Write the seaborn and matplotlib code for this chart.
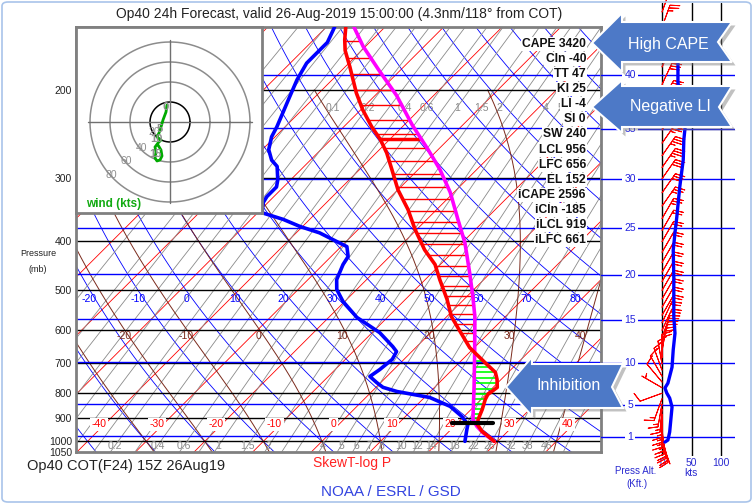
import numpy as np
import pandas as pd
import matplotlib
matplotlib.use("Agg")
import matplotlib.pyplot as plt
import seaborn as sns
from matplotlib.patches import Polygon, FancyBboxPatch
import matplotlib.patheffects as pe
from matplotlib.ticker import NullLocator

sns.set_style("white")
plt.rcParams['font.family'] = ['Liberation Sans', 'DejaVu Sans']

# ---------------- data ----------------
temp_p = [150, 159, 167, 180, 203, 219, 237, 251, 267, 288, 316, 346, 379, 416, 445, 477, 522, 565, 619, 651,
          666, 703, 729, 753, 781, 807, 825, 864, 904, 925, 955, 977, 1000]
temp_c = [-66.7, -64.7, -62.8, -59.2, -53.6, -49.7, -45.2, -41.6, -38.2, -34.5, -30.0, -24.9, -20.3, -15.2, -10.9,
          -7.5, -2.9, 0.8, 6.2, 9.2, 10.9, 15.0, 17.8, 19.3, 20.7, 20.3, 20.7, 21.9, 22.9, 23.6, 25.6, 27.5, 29.4]

dewp_p = [150, 161, 167, 177, 191, 207, 222, 237, 248, 263, 276, 284, 302, 312, 326, 335, 351, 362, 374, 385,
          397, 410, 429, 445, 477, 499, 527, 567, 608, 648, 663, 687, 720, 743, 764, 781, 796, 818, 852, 892,
          925, 947, 1000]
dewp_c = [-68.6, -67.2, -67.2, -67.2, -66.0, -64.3, -62.8, -61.4, -60.6, -58.9, -56.6, -54.6, -52.2, -51.2, -51.2,
          -50.8, -49.3, -44.5, -40.4, -36.0, -32.6, -29.0, -27.1, -26.6, -25.1, -23.4, -20.3, -15.2, -8.7, -4.1,
          -2.6, -2.0, -2.4, -2.9, -0.7, 1.2, 4.3, 10.9, 15.9, 19.6, 22.0, 22.7, 24.4]

parcel_p = [150, 164, 183, 205, 235, 263, 288, 320, 362, 403, 462, 515, 565, 666, 778, 904, 934, 960, 1000]
parcel_c = [-65.3, -60.4, -53.6, -46.4, -38.6, -31.7, -26.3, -20.6, -14.7, -9.5, -3.6, 1.0, 4.8, 10.9, 16.6,
            22.0, 23.9, 25.9, 29.4]

lfc_p = 656
max_bar_p = 250
ilcl_p = 919
ilcl_t = [19.1, 26.1]

hodo_u = [-3, -4, -7, -9, -11, -13, -9, -12, -15, -14, -15, -13, -10, -8, -9, -12]
hodo_v = [17, 10, 2, -5, -11, -15, -18, -21, -25, -30, -36, -39, -38, -34, -28, -23]
hodo_rings = [20, 40, 60, 80]
hodo_marks = ["0", "5", "10", "15"]
hodo_mark_idx = [0, 3, 5, 9]

spd_p = [150, 178, 193, 215, 238, 251, 275, 312, 358, 384, 416, 470, 565, 608, 656, 710, 764, 781, 799, 818,
         852, 955, 991, 1000]
spd_kt = [25, 27, 27, 33, 39, 37, 36, 30, 25, 22, 19, 20, 20, 22, 19, 17, 10, 5, 8, 13, 17, 13, 10, 5]

barb_p = [1000, 990, 980, 970, 960, 950, 935, 920,
          900, 880, 860, 840,
          820, 800, 780, 760,
          740, 720, 700, 680,
          660, 640, 620, 600, 580, 560,
          540, 520, 500, 480, 460, 440, 420, 400,
          380, 360, 340, 320, 300,
          285, 270, 255, 240, 225, 210, 195,
          180, 165, 150, 140]
barb_dir = [160, 165, 165, 170, 170, 175, 175, 180,
            180, 180, 185, 190,
            200, 250, 300, 320,
            330, 340, 350, 0,
            10, 15, 20, 25, 25, 30,
            30, 30, 30, 30, 30, 30, 30, 30,
            30, 30, 35, 35, 35,
            35, 35, 35, 30, 30, 30, 25,
            25, 20, 20, 20]
barb_spd = [5, 8, 10, 12, 13, 14, 15, 15,
            16, 17, 17, 15,
            13, 9, 5, 8,
            10, 14, 17, 18,
            19, 20, 21, 22, 21, 20,
            20, 20, 20, 20, 20, 19, 19, 19,
            21, 23, 25, 28, 31,
            33, 35, 37, 38, 36, 32, 28,
            27, 27, 26, 25]

press_ticks = [200, 300, 400, 500, 600, 700, 800, 900, 1000, 1050]
press_lines = [200, 300, 400, 500, 600, 700, 800, 900, 1000]
height_kft = [1, 5, 10, 15, 20, 25, 30, 35, 40]
iso_labels = [-40, -30, -20, -10, 0, 10, 20, 30, 40]
dry_labels = [-20, -10, 0, 10, 20, 30, 40, 50, 60, 70, 80]
moist_vals = [-30, -20, -10, 0, 10, 20, 30, 40]
moist_labels = [-20, -10, 0, 10, 20, 30, 40]
mix_vals = [0.01, 0.02, 0.03, 0.05, 0.07, 0.1, 0.15, 0.2, 0.3, 0.4, 0.6, 0.8, 1, 1.5, 2, 2.5, 3, 4, 5, 6, 7, 8,
            10, 12, 14, 18, 22, 26, 32, 38, 46, 56]
mix_labels_bottom = [0.2, 0.4, 0.6, 1, 1.5, 2, 4, 5, 6, 7, 8, 10, 12, 14, 18, 22, 26, 32, 38, 46]
mix_labels_top = [0.1, 0.2, 0.4, 0.6, 1, 1.5, 2, 4, 5]

stats = ["CAPE 3420", "CIn -40", "TT 47", "KI 25", "LI -4", "SI 0", "SW 240", "LCL 956", "LFC 656", "EL 152",
         "iCAPE 2596", "iCIn -185", "iLCL 919", "iLFC 661"]

# ---------------- helpers ----------------
K = 37.3
W, H = 753, 504


def skew(t, p):
    return np.asarray(t, float) + K * np.log(1000.0 / np.asarray(p, float))


def fmt(v):
    return ("%g" % v)


def td_from_w(w, p):
    e = w * p / (622.0 + w)
    l = np.log(e / 6.112)
    return 243.5 * l / (17.67 - l)


def moist(thw, p_end):
    Rd, cp, Lv, eps = 287.04, 1005.7, 2.501e6, 0.622
    lnp = np.linspace(np.log(1000.0), np.log(p_end), 300)

    def f(T, p):
        tc = T - 273.15
        es = 6.112 * np.exp(17.67 * tc / (tc + 243.5))
        rs = eps * es / (p - es)
        return (Rd * T + Lv * rs) / (cp + Lv * Lv * rs * eps / (Rd * T * T))

    T = thw + 273.15
    out = [T]
    for i in range(1, len(lnp)):
        d = lnp[i] - lnp[i - 1]
        p0, p1 = np.exp(lnp[i - 1]), np.exp(lnp[i])
        k1 = f(T, p0)
        k2 = f(T + k1 * d, p1)
        T = T + 0.5 * (k1 + k2) * d
        out.append(T)
    return np.exp(lnp), np.array(out) - 273.15


def px_axes(fig, l, t, r, b):
    return fig.add_axes([l / W, 1 - b / H, (r - l) / W, (b - t) / H])


fig = plt.figure(figsize=(W / 100, H / 100), dpi=100)
fig.patch.set_facecolor("white")

# ---------------- main skew-T axes ----------------
ax = px_axes(fig, 76, 27, 601, 452)
ax.set_yscale("log")
ax.set_ylim(1050, 150)
ax.set_xlim(-41.97, 47.62)
ax.yaxis.set_minor_locator(NullLocator())
ax.set_yticks(press_ticks)
ax.set_yticklabels([str(v) for v in press_ticks])
ax.set_xticks([])
ax.tick_params(axis="y", length=0, pad=3, labelsize=7.5, colors="#222222")
for s in ax.spines.values():
    s.set_color("#808080")
    s.set_linewidth(2)

pfull = np.geomspace(1050, 150, 80)
# isotherms
for t in range(-130, 60, 10):
    ax.plot(skew([t, t], [1050, 150]), [1050, 150], color="red", lw=0.6, zorder=1)
# dry adiabats
for th in range(-40, 170, 10):
    tt = (th + 273.15) * (pfull / 1000.0) ** 0.2857 - 273.15
    ax.plot(skew(tt, pfull), pfull, color="blue", lw=0.6, zorder=1)
# mixing ratio lines
for w in mix_vals:
    ax.plot(skew(td_from_w(w, pfull), pfull), pfull, color="#8a8a8a", lw=0.6, zorder=1)
# moist adiabats
moist_lines = {}
for thw in moist_vals:
    pu, tu = moist(thw, 200)
    pd_, td_ = moist(thw, 1050)
    pp = np.concatenate([pd_[::-1], pu[1:]])
    tt = np.concatenate([td_[::-1], tu[1:]])
    moist_lines[thw] = (pp, tt)
    ax.plot(skew(tt, pp), pp, color="#7b2a1c", lw=0.7, zorder=1)

# pressure & height lines
for p in press_lines:
    ax.axhline(p, color="black", lw=1, zorder=2)
height_p = [1013.25 * (1 - 2.25577e-5 * h * 304.8) ** 5.25588 for h in height_kft]
for p in height_p:
    ax.axhline(p, color="blue", lw=1, zorder=2)

# labels of the background lines
for t in iso_labels:
    ax.text(skew(t - 1.0, 925), 925, str(t), color="red", fontsize=7.5, ha="center", va="center", zorder=3,
            bbox=dict(facecolor="white", edgecolor="none", pad=1.2))
for th in dry_labels:
    tt = (th + 273.15) * (520 / 1000.0) ** 0.2857 - 273.15
    ax.text(skew(tt - 1.0, 520), 520, str(th), color="blue", fontsize=7.5, ha="center", va="center", zorder=3)
for thw in moist_labels:
    pp, tt = moist_lines[thw]
    t616 = np.interp(np.log(616), np.log(pp[::-1]), tt[::-1])
    ax.text(skew(t616 - 0.8, 616), 616, str(thw), color="#7b2a1c", fontsize=7.5, ha="center", va="center",
            zorder=3)
for w in mix_labels_bottom:
    ax.text(skew(td_from_w(w, 1020), 1020), 1020, fmt(w), color="#8a8a8a", fontsize=7.5, ha="center",
            va="center", zorder=3)
for w in mix_labels_top:
    ax.text(skew(td_from_w(w, 217), 217), 217, fmt(w), color="#8a8a8a", fontsize=7.5, ha="center",
            va="center", zorder=3)

# CAPE / CIN hatching
lp_t = np.log(temp_p)
lp_p = np.log(parcel_p)
cape_levels = np.arange(np.sqrt(160), np.sqrt(lfc_p), 0.5) ** 2
for p in cape_levels:
    te = np.interp(np.log(p), lp_t, temp_c)
    tp = np.interp(np.log(p), lp_p, parcel_c)
    if tp > te:
        ax.plot(skew([te, tp], [p, p]), [p, p], color="red", lw=1, zorder=3)
te = np.interp(np.log(max_bar_p), lp_t, temp_c)
tp = np.interp(np.log(max_bar_p), lp_p, parcel_c)
ax.plot(skew([te, tp], [max_bar_p] * 2), [max_bar_p] * 2, color="red", lw=2.5, zorder=3)
for p in np.arange(672, 922, 19):
    te = np.interp(np.log(p), lp_t, temp_c)
    tp = np.interp(np.log(p), lp_p, parcel_c)
    if te > tp:
        ax.plot(skew([tp, te], [p, p]), [p, p], color="#00ff00", lw=1.2, zorder=3)

# traces
sns.lineplot(x=skew(dewp_c, dewp_p), y=dewp_p, sort=False, estimator=None, ax=ax, color="blue", lw=2.6,
             zorder=4, legend=False)
sns.lineplot(x=skew(parcel_c, parcel_p), y=parcel_p, sort=False, estimator=None, ax=ax, color="#ff00ff",
             lw=2.6, zorder=4, legend=False)
sns.lineplot(x=skew(temp_c, temp_p), y=temp_p, sort=False, estimator=None, ax=ax, color="red", lw=2.6,
             zorder=5, legend=False)
ax.plot(skew(ilcl_t, [ilcl_p] * 2), [ilcl_p] * 2, color="black", lw=3, zorder=6)
ax.set_xlabel("")
ax.set_ylabel("")
ax.set_xlim(-41.97, 47.62)
ax.set_ylim(1050, 150)

# ---------------- wind panel ----------------
ax2 = px_axes(fig, 601, 3, 735, 456)
ax2.set_yscale("log")
ax2.set_ylim(1066, 134.3)
ax2.set_xlim(-103.4, 123.7)
ax2.yaxis.set_minor_locator(NullLocator())
ax2.set_yticks([])
for s in ax2.spines.values():
    s.set_visible(False)
ax2.patch.set_alpha(0)
for v in [0, 50, 100]:
    ax2.axvline(v, color="black", lw=1, zorder=1)
for h, p in zip(height_kft, height_p):
    ax2.axhline(p, color="blue", lw=1, zorder=1)
    ax2.text(-54, p, str(h), color="#2222dd", fontsize=7.5, ha="center", va="center", zorder=2,
             bbox=dict(facecolor="white", edgecolor="none", pad=1.5))
d = np.radians(barb_dir)
bu = -np.array(barb_spd) * np.sin(d)
bv = -np.array(barb_spd) * np.cos(d)
ax2.barbs(np.zeros(len(barb_p)), barb_p, bu, bv, length=5.8, color="red", lw=0.7, zorder=3, clip_on=False)
sns.lineplot(x=spd_kt, y=spd_p, sort=False, estimator=None, ax=ax2, color="blue", lw=2.4, zorder=4,
             legend=False)
ax2.set_ylabel("")
ax2.set_xlabel("")
ax2.set_xticks([0, 50, 100])
ax2.set_xticklabels(["0", "50", "100"])
ax2.tick_params(axis="x", length=0, pad=1.5, labelsize=7.5, colors="#2a2ad0")
ax2.set_xlim(-103.4, 123.7)
ax2.set_ylim(1066, 134.3)

# ---------------- hodograph inset ----------------
hax = px_axes(fig, 76, 27, 262, 213)
hax.set_xlim(-94, 92)
hax.set_ylim(-91, 95)
hax.set_xticks([])
hax.set_yticks([])
hax.set_facecolor("white")
for s in hax.spines.values():
    s.set_color("#808080")
    s.set_linewidth(2)
ang = np.linspace(0, 2 * np.pi, 240)
for r in hodo_rings:
    hax.plot(r * np.cos(ang), r * np.sin(ang), color="black" if r == 20 else "#8c8c8c", lw=1.1)
hax.plot([-82, 82], [0, 0], color="#707070", lw=1)
hax.plot([0, 0], [-81, 82], color="#707070", lw=1)
for r in hodo_rings:
    a = np.radians(212 if r == 20 else 222)
    hax.text((r - 1) * np.cos(a), (r - 1) * np.sin(a), str(r), color="#8c8c8c", fontsize=7.5,
             ha="center", va="center")
sns.lineplot(x=hodo_u, y=hodo_v, sort=False, estimator=None, ax=hax, color="#00aa00", lw=2, legend=False,
             zorder=3)
for lab, i in zip(hodo_marks, hodo_mark_idx):
    hax.text(hodo_u[i] - 1, hodo_v[i] - 2, lab, color="#909090", fontsize=8, fontweight="bold",
             ha="center", va="center", zorder=4)
hax.text(0.054, 0.05, "wind (kts)", transform=hax.transAxes, color="#11aa11", fontsize=8.5,
         fontweight="bold", ha="left", va="center")
hax.set_xlabel("")
hax.set_ylabel("")
hax.set_xlim(-94, 92)
hax.set_ylim(-91, 95)

# ---------------- texts ----------------
fig.text(339 / W, 1 - 14 / H, "Op40 24h Forecast, valid 26-Aug-2019 15:00:00 (4.3nm/118\u00b0 from COT)",
         ha="center", va="center", fontsize=10, color="#222222")
for i, s in enumerate(stats):
    fig.text(586 / W, 1 - (44 + i * 15.08) / H, s, ha="right", va="center", fontsize=8.7, fontweight="bold",
             color="#111111", zorder=4, bbox=dict(facecolor="white", edgecolor="none", pad=0.8))
fig.text(38 / W, 1 - 254 / H, "Pressure", ha="center", va="center", fontsize=6.5, color="#222222")
fig.text(38 / W, 1 - 270 / H, "(mb)", ha="center", va="center", fontsize=6.5, color="#222222")
fig.text(27 / W, 1 - 466 / H, "Op40 COT(F24) 15Z 26Aug19", ha="left", va="center", fontsize=10.5,
         color="#222222")
fig.text(352 / W, 1 - 463 / H, "SkewT-log P", ha="center", va="center", fontsize=10, color="#ff2222")
fig.text(391 / W, 1 - 492 / H, "NOAA / ESRL / GSD", ha="center", va="center", fontsize=11, color="#3344e0")
fig.text(636 / W, 1 - 471 / H, "Press Alt.", ha="center", va="center", fontsize=7, color="#2a2ad0")
fig.text(637 / W, 1 - 484 / H, "(Kft.)", ha="center", va="center", fontsize=7, color="#2a2ad0")
fig.text(691 / W, 1 - 473 / H, "kts", ha="center", va="center", fontsize=7.5, color="#2a2ad0")

# ---------------- callout arrows ----------------
callouts = [
    ("High CAPE", [(592, 43), (622, 13), (622, 22), (732, 22), (718, 42), (732, 62), (622, 62), (622, 72)],
     (668, 44)),
    ("Negative LI", [(592, 107), (622, 80), (622, 86), (732, 86), (719, 107), (732, 127), (622, 127),
                     (622, 133)], (670, 107)),
    ("Inhibition", [(506, 387), (532, 357), (532, 364), (623, 364), (612, 387), (623, 408), (532, 408),
                    (532, 416)], (569, 386)),
]
for txt, pts, c in callouts:
    verts = [(x / W, 1 - y / H) for x, y in pts]
    poly = Polygon(verts, closed=True, transform=fig.transFigure, facecolor="#4d79c7", edgecolor="white",
                   lw=1.5, zorder=10)
    poly.set_path_effects([pe.SimplePatchShadow(offset=(2.5, -2.5), shadow_rgbFace="#777777", alpha=0.45),
                           pe.Normal()])
    fig.patches.append(poly)
    fig.text(c[0] / W, 1 - c[1] / H, txt, ha="center", va="center", fontsize=11.5, color="white", zorder=11)

border = FancyBboxPatch((2 / W, 2 / H), 749 / W, 500 / H, boxstyle="round,pad=0,rounding_size=0.008",
                        transform=fig.transFigure, fill=False, edgecolor="#a9c4ea", lw=1.2, zorder=12)
fig.patches.append(border)

fig.savefig("out.png", dpi=100)
